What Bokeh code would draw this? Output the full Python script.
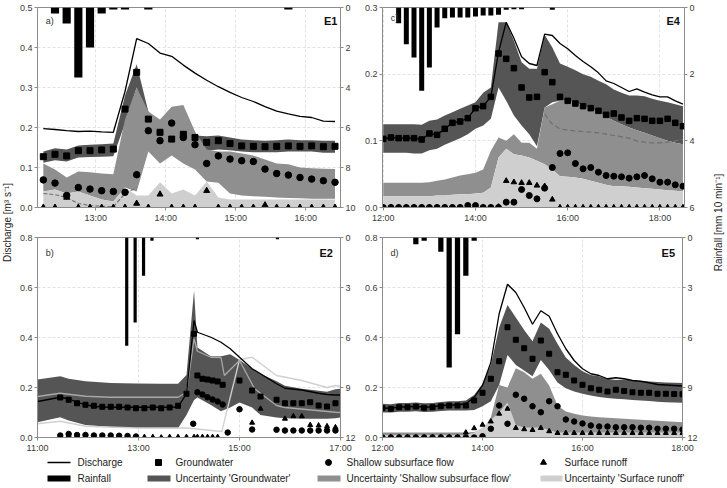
import math
from bokeh.plotting import figure
from bokeh.models import Range1d, LinearAxis, FixedTicker, PrintfTickFormatter
from bokeh.layouts import row, column
from bokeh.embed import file_html
from bokeh.resources import INLINE
from bokeh.core.properties import value

FONT = "Liberation Sans"
C_DARK = "#555555"
C_MED = "#8f8f8f"
C_LIGHT = "#cfcfcf"
AXC = "#8c8c8c"

# ================= DATA =================
# ---- Panel a (E1): minutes after 12:00 ----
a_time = list(range(15, 266, 10))
a_discharge = [0.197, 0.195, 0.192, 0.190, 0.191, 0.189, 0.188, 0.290, 0.422, 0.410, 0.386, 0.378, 0.356,
               0.336, 0.318, 0.302, 0.288, 0.275, 0.265, 0.252, 0.241, 0.234, 0.228, 0.225, 0.216, 0.215]
a_groundwater = [0.127, 0.133, 0.129, 0.142, 0.142, 0.144, 0.146, 0.246, 0.338, 0.221, 0.188, 0.171, 0.183,
                 0.175, 0.163, 0.167, 0.160, 0.154, 0.153, 0.152, 0.153, 0.154, 0.153, 0.154, 0.152, 0.153]
a_shallow = [0.069, 0.061, 0.030, 0.050, 0.046, 0.042, 0.040, 0.038, 0.082, 0.192, 0.167, 0.211, 0.175,
             0.157, 0.110, 0.129, 0.121, 0.117, 0.115, 0.096, 0.085, 0.081, 0.075, 0.071, 0.067, 0.063]
a_surface = [0, 0, 0.025, 0, 0, 0, 0, 0, 0.010, 0, 0.033, 0, 0,
             0, 0.042, 0, 0, 0, 0, 0.006, 0, 0, 0, 0, 0, 0]
a_gw_lo = [0.112, 0.118, 0.115, 0.125, 0.126, 0.127, 0.128, 0.210, 0.300, 0.200, 0.160, 0.155, 0.150,
           0.148, 0.142, 0.145, 0.143, 0.140, 0.138, 0.138, 0.138, 0.140, 0.140, 0.140, 0.137, 0.137]
a_gw_hi = [0.140, 0.148, 0.145, 0.155, 0.157, 0.158, 0.160, 0.280, 0.358, 0.240, 0.200, 0.190, 0.185,
           0.180, 0.178, 0.180, 0.175, 0.170, 0.168, 0.167, 0.168, 0.170, 0.168, 0.168, 0.167, 0.167]
a_sh_lo = [0.040, 0.045, 0.035, 0.040, 0.030, 0.020, 0.015, 0.050, 0.040, 0.140, 0.110, 0.130, 0.110,
           0.095, 0.065, 0.062, 0.035, 0.030, 0.028, 0.027, 0.025, 0.024, 0.023, 0.022, 0.022, 0.022]
a_sh_hi = [0.110, 0.095, 0.075, 0.090, 0.088, 0.085, 0.083, 0.220, 0.300, 0.240, 0.220, 0.252, 0.256,
           0.190, 0.145, 0.140, 0.140, 0.135, 0.130, 0.120, 0.110, 0.108, 0.100, 0.098, 0.097, 0.096]
a_sr_hi = [0.040, 0.045, 0.035, 0.040, 0.030, 0.020, 0.015, 0.050, 0.030, 0.030, 0.063, 0.035, 0.045,
           0.030, 0.065, 0.025, 0.020, 0.020, 0.020, 0.020, 0.020, 0.020, 0.020, 0.020, 0.020, 0.020]
a_dash_time = [15, 25, 35, 45, 55, 65, 75, 85, 95]
a_dashed = [0.035, 0.032, 0.025, 0.010, 0.005, 0.003, 0.002, 0.035, 0.050]
a_rain_time = [25, 35, 45, 55, 65, 75, 85, 105, 225]
a_rain = [0.3, 0.8, 3.5, 2.0, 0.3, 0.1, 0.1, 0.1, 0.1]

# ---- Panel b (E2): minutes after 11:00 ----
b_gw_time = [27, 37, 47, 57, 67, 77, 87, 97, 107, 117, 127, 137, 147, 157, 167, 177, 186,
             190, 196, 202, 208, 214, 220, 240, 255, 265, 284, 294, 304, 314, 324, 334, 344, 354]
b_groundwater = [0.160, 0.151, 0.137, 0.131, 0.127, 0.123, 0.123, 0.123, 0.120, 0.117, 0.117, 0.120, 0.117,
                 0.120, 0.127, 0.175, 0.415, 0.248, 0.235, 0.232, 0.228, 0.224, 0.211, 0.228, 0.188, 0.164,
                 0.151, 0.137, 0.137, 0.137, 0.141, 0.128, 0.124, 0.137]
b_sh_time = [27, 37, 47, 57, 67, 77, 87, 97, 107, 117, 185, 190, 196, 202, 208, 214, 220, 226,
             240, 255, 284, 294, 304, 314, 324, 334, 344, 354]
b_shallow = [0.008, 0.014, 0.010, 0.010, 0.008, 0.008, 0.008, 0.007, 0.006, 0.004, 0.055, 0.181, 0.172,
             0.161, 0.152, 0.144, 0.132, 0.020, 0.113, 0.032, 0.031, 0.028, 0.028, 0.028, 0.028, 0.028,
             0.028, 0.028]
b_sr_time = [27, 37, 47, 57, 67, 77, 87, 97, 107, 117, 127, 137, 147, 157, 167, 177, 186, 190, 196,
             202, 208, 214, 255, 265, 294, 304, 314, 324, 334, 344, 354]
b_surface = [0.004, 0.008, 0.003, 0.003, 0.002, 0.002, 0.002, 0, 0, 0.002, 0.002, 0.002, 0, 0.002,
             0.002, 0.002, 0.002, 0.002, 0.002, 0.002, 0.002, 0.002, 0.059, 0.115, 0.075, 0.085, 0.085,
             0.050, 0.048, 0.045, 0.041]
b_q_time = [0, 27, 37, 47, 57, 67, 77, 87, 97, 107, 117, 127, 137, 147, 157, 167, 177, 186, 190, 206,
            218, 229, 240, 255, 265, 284, 294, 314, 334, 344, 354, 360]
b_discharge = [0.144, 0.161, 0.155, 0.141, 0.131, 0.125, 0.122, 0.121, 0.121, 0.121, 0.121, 0.121, 0.121,
               0.121, 0.121, 0.122, 0.175, 0.468, 0.421, 0.401, 0.381, 0.355, 0.321, 0.275, 0.255, 0.215,
               0.197, 0.190, 0.177, 0.172, 0.170, 0.170]
b_band_time = [0, 27, 37, 57, 87, 117, 147, 167, 177, 186, 190, 206, 218, 229, 240, 255, 265, 284, 294,
               314, 334, 344, 354, 360]
b_gw_hi = [0.232, 0.245, 0.235, 0.225, 0.218, 0.216, 0.215, 0.215, 0.250, 0.588, 0.360, 0.325, 0.325,
           0.333, 0.310, 0.275, 0.255, 0.225, 0.207, 0.195, 0.187, 0.183, 0.193, 0.195]
b_gw_lo = [0.061, 0.081, 0.068, 0.050, 0.042, 0.038, 0.037, 0.037, 0.090, 0.150, 0.160, 0.130, 0.105,
           0.120, 0.140, 0.120, 0.090, 0.080, 0.077, 0.075, 0.075, 0.075, 0.077, 0.080]
b_la_time = [0, 27, 57, 87, 167, 177, 186, 190, 206, 218, 222, 240, 258, 284, 294, 354, 360]
b_line_a = [0.164, 0.177, 0.165, 0.161, 0.161, 0.180, 0.395, 0.345, 0.321, 0.320, 0.248, 0.308, 0.195,
            0.128, 0.120, 0.101, 0.100]
b_lb_time = [0, 27, 57, 117, 177, 219, 240, 255, 284, 314, 344, 354, 360]
b_line_b = [0.055, 0.065, 0.045, 0.038, 0.038, 0.024, 0.311, 0.321, 0.248, 0.228, 0.200, 0.208, 0.205]
b_rain_time = [106, 116, 126, 136, 190, 285]
b_rain = [6.5, 5.1, 2.3, 0.2, 0.1, 0.1]

# ---- Panel c (E4): minutes after 12:00 ----
c_time = list(range(0, 391, 10))
c_discharge = [0.103, 0.105, 0.104, 0.104, 0.104, 0.102, 0.111, 0.109, 0.118, 0.127,
               0.129, 0.134, 0.149, 0.152, 0.166, 0.233, 0.278, 0.254, 0.226, 0.216,
               0.213, 0.260, 0.258, 0.246, 0.238, 0.228, 0.219, 0.211, 0.202, 0.190,
               0.186, 0.180, 0.174, 0.178, 0.173, 0.169, 0.166, 0.166, 0.160, 0.155]
c_groundwater = [0.103, 0.105, 0.104, 0.104, 0.104, 0.102, 0.111, 0.109, 0.118, 0.127,
                 0.129, 0.134, 0.149, 0.152, 0.166, 0.231, 0.223, 0.209, 0.180, 0.165,
                 0.166, 0.203, 0.188, 0.166, 0.160, 0.156, 0.152, 0.149, 0.145, 0.139,
                 0.141, 0.135, 0.130, 0.134, 0.133, 0.130, 0.130, 0.133, 0.127, 0.122]
c_shallow = [0, 0, 0, 0, 0, 0, 0, 0, 0, 0,
             0, 0.003, 0.003, 0, 0, 0, 0.008, 0.008, 0.027, 0.018,
             0.013, 0.029, 0.060, 0.081, 0.082, 0.066, 0.058, 0.060, 0.053, 0.048,
             0.047, 0.046, 0.044, 0.046, 0.048, 0.043, 0.038, 0.038, 0.034, 0.032]
c_surface = [0, 0, 0, 0, 0, 0, 0, 0, 0, 0,
             0, 0, 0, 0, 0, 0.001, 0.040, 0.038, 0.037, 0.037,
             0.033, 0.032, 0.012, 0, 0, 0, 0, 0, 0, 0,
             0, 0, 0, 0, 0, 0, 0, 0, 0, 0]
c_gw_lo = [0.082, 0.082, 0.082, 0.082, 0.081, 0.081, 0.086, 0.088, 0.094, 0.099,
           0.104, 0.110, 0.118, 0.123, 0.133, 0.180, 0.160, 0.138, 0.123, 0.110,
           0.092, 0.150, 0.158, 0.160, 0.160, 0.157, 0.153, 0.148, 0.142, 0.136,
           0.130, 0.125, 0.120, 0.116, 0.112, 0.108, 0.104, 0.100, 0.097, 0.095]
c_gw_hi = [0.125, 0.125, 0.125, 0.125, 0.125, 0.124, 0.130, 0.132, 0.138, 0.143,
           0.148, 0.153, 0.158, 0.172, 0.180, 0.278, 0.278, 0.250, 0.218, 0.208,
           0.208, 0.259, 0.240, 0.216, 0.211, 0.206, 0.200, 0.196, 0.190, 0.185,
           0.177, 0.172, 0.168, 0.168, 0.167, 0.163, 0.160, 0.158, 0.155, 0.152]
c_sh_lo = [0.017, 0.017, 0.017, 0.017, 0.017, 0.017, 0.017, 0.018, 0.018, 0.019,
           0.020, 0.020, 0.021, 0.022, 0.030, 0.075, 0.088, 0.080, 0.078, 0.075,
           0.070, 0.065, 0.057, 0.047, 0.046, 0.045, 0.043, 0.040, 0.037, 0.034,
           0.032, 0.032, 0.031, 0.030, 0.029, 0.028, 0.027, 0.026, 0.025, 0.024]
c_sh_hi = [0.037, 0.037, 0.037, 0.037, 0.037, 0.037, 0.038, 0.040, 0.042, 0.045,
           0.048, 0.050, 0.052, 0.057, 0.085, 0.105, 0.100, 0.110, 0.097, 0.097,
           0.088, 0.150, 0.155, 0.160, 0.160, 0.157, 0.153, 0.148, 0.142, 0.136,
           0.130, 0.125, 0.120, 0.116, 0.112, 0.108, 0.104, 0.100, 0.097, 0.095]
c_sr_hi = [0.017, 0.017, 0.017, 0.017, 0.017, 0.017, 0.017, 0.018, 0.018, 0.019,
           0.020, 0.020, 0.021, 0.022, 0.030, 0.075, 0.088, 0.080, 0.078, 0.075,
           0.070, 0.065, 0.057, 0.047, 0.046, 0.045, 0.043, 0.040, 0.037, 0.034,
           0.032, 0.032, 0.031, 0.030, 0.029, 0.028, 0.027, 0.026, 0.025, 0.024]
c_dash_time = list(range(210, 391, 10))
c_dashed = [0.140, 0.125, 0.118, 0.116, 0.115, 0.114, 0.113, 0.112, 0.110, 0.108,
            0.106, 0.104, 0.100, 0.098, 0.097, 0.097, 0.098, 0.100, 0.102]
c_rain_time = [20, 30, 40, 50, 60, 70, 80, 90, 100, 110, 120, 130, 140, 150, 160, 170, 180, 220]
c_rain = [0.47, 1.1, 1.5, 2.5, 1.8, 0.6, 0.32, 0.3, 0.3, 0.3, 0.27, 0.24, 0.24, 0.22, 0.07, 0.05, 0.05, 0.07]

# ---- Panel d (E5): minutes after 12:00 ----
d_time = list(range(0, 361, 10))
d_discharge = [0.118, 0.117, 0.122, 0.122, 0.125, 0.121, 0.123, 0.127, 0.130, 0.130,
               0.135, 0.160, 0.208, 0.300, 0.495, 0.613, 0.580, 0.520, 0.453, 0.507,
               0.485, 0.415, 0.355, 0.308, 0.275, 0.255, 0.248, 0.235, 0.239, 0.235,
               0.228, 0.225, 0.219, 0.212, 0.210, 0.208, 0.206]
d_groundwater = [0.117, 0.115, 0.121, 0.121, 0.124, 0.119, 0.121, 0.125, 0.128, 0.128,
                 0.128, 0.148, 0.179, 0.235, 0.305, 0.441, 0.391, 0.357, 0.315, 0.388,
                 0.335, 0.261, 0.251, 0.228, 0.211, 0.197, 0.191, 0.184, 0.191, 0.186,
                 0.181, 0.179, 0.179, 0.175, 0.175, 0.174, 0.173]
d_shallow = [0, 0, 0, 0, 0, 0, 0, 0, 0, 0,
             0, 0, 0.005, 0.035, 0.128, 0.055, 0.171, 0.155, 0.125, 0.101,
             0.145, 0.125, 0.072, 0.064, 0.056, 0.048, 0.044, 0.044, 0.041, 0.041,
             0.041, 0.039, 0.039, 0.035, 0.035, 0.035, 0.032]
d_surface = [0, 0, 0, 0, 0, 0, 0, 0, 0, 0,
             0.020, 0.037, 0.051, 0.064, 0.095, 0.115, 0.038, 0.033, 0.030, 0.038,
             0.025, 0.018, 0.018, 0.018, 0.018, 0.018, 0.018, 0.018, 0.018, 0.018,
             0.018, 0.018, 0.018, 0.018, 0.018, 0.018, 0.018]
d_gw_lo = [0.100, 0.100, 0.103, 0.103, 0.105, 0.102, 0.103, 0.106, 0.108, 0.108,
           0.108, 0.110, 0.125, 0.145, 0.210, 0.330, 0.290, 0.268, 0.245, 0.310,
           0.270, 0.220, 0.197, 0.184, 0.175, 0.168, 0.162, 0.158, 0.155, 0.153,
           0.150, 0.148, 0.146, 0.143, 0.141, 0.140, 0.139]
d_gw_hi = [0.135, 0.133, 0.138, 0.138, 0.140, 0.137, 0.138, 0.142, 0.145, 0.145,
           0.148, 0.170, 0.215, 0.290, 0.440, 0.530, 0.480, 0.430, 0.385, 0.460,
           0.435, 0.375, 0.320, 0.290, 0.265, 0.250, 0.245, 0.235, 0.230, 0.232,
           0.228, 0.226, 0.224, 0.222, 0.220, 0.219, 0.218]
d_sh_hi = [0.020, 0.020, 0.020, 0.020, 0.020, 0.020, 0.020, 0.020, 0.020, 0.020,
           0.020, 0.022, 0.030, 0.080, 0.210, 0.200, 0.277, 0.261, 0.235, 0.255,
           0.208, 0.128, 0.104, 0.095, 0.088, 0.084, 0.081, 0.079, 0.077, 0.075,
           0.073, 0.071, 0.069, 0.067, 0.065, 0.063, 0.061]
d_sr_hi = [0.010, 0.010, 0.010, 0.010, 0.010, 0.010, 0.010, 0.010, 0.010, 0.010,
           0.010, 0.020, 0.040, 0.070, 0.100, 0.140, 0.050, 0.040, 0.040, 0.040,
           0.030, 0.020, 0.020, 0.020, 0.020, 0.020, 0.020, 0.020, 0.020, 0.020,
           0.020, 0.020, 0.020, 0.020, 0.020, 0.020, 0.020]
d_rain_time = [40, 50, 70, 80, 90, 100, 110]
d_rain = [0.4, 0.2, 0.85, 7.8, 5.8, 2.3, 0.2]

# ---- axes ----
yticks_a = [0.0, 0.1, 0.2, 0.3, 0.4, 0.5]
yticks_c = [0.0, 0.1, 0.2, 0.3]
yticks_bd = [0.0, 0.2, 0.4, 0.6, 0.8]
rticks_a = [0, 2, 4, 6, 8, 10]
rticks_c = [0, 2, 4, 6]
rticks_bd = [0, 3, 6, 9, 12]
xticks_a = [60, 120, 180, 240]
xlabels_a = ["13:00", "14:00", "15:00", "16:00"]
xticks_b = [0, 120, 240, 360]
xlabels_b = ["11:00", "13:00", "15:00", "17:00"]
xticks_cd = [0, 120, 240, 360]
xlabels_cd = ["12:00", "14:00", "16:00", "18:00"]

legend_labels_1 = ["Discharge", "Groundwater", "Shallow subsurface flow", "Surface runoff"]
legend_labels_2 = ["Rainfall", "Uncertainty 'Groundwater'", "Uncertainty 'Shallow subsurface flow'",
                   "Uncertainty 'Surface runoff'"]


# ================= PLOTTING =================
def style_axis(ax):
    ax.axis_line_color = AXC
    ax.major_tick_line_color = AXC
    ax.minor_tick_line_color = None
    ax.major_tick_out = 3
    ax.major_tick_in = 0
    ax.major_label_standoff = 2
    ax.major_label_text_font = FONT
    ax.major_label_text_font_size = "9px"
    ax.major_label_text_color = "#3a3a3a"


def make_panel(W, H, L, R, T, B, xr, ymax, yticks, rmax, rticks, xticks, xlabels):
    p = figure(width=W, height=H, x_range=Range1d(*xr), y_range=Range1d(0, ymax),
               min_border_left=L, min_border_right=R, min_border_top=T, min_border_bottom=B,
               toolbar_location=None, tools="", output_backend="svg")
    p.extra_y_ranges = {"rain": Range1d(rmax, 0)}
    p.outline_line_color = AXC
    p.background_fill_color = "white"
    p.border_fill_color = "white"
    p.xaxis[0].ticker = FixedTicker(ticks=xticks)
    p.xaxis[0].major_label_overrides = {t: l for t, l in zip(xticks, xlabels)}
    p.yaxis[0].ticker = FixedTicker(ticks=yticks)
    p.yaxis[0].formatter = PrintfTickFormatter(format="%.1f")
    rax = LinearAxis(y_range_name="rain", ticker=FixedTicker(ticks=rticks),
                     formatter=PrintfTickFormatter(format="%d"))
    p.add_layout(rax, "right")
    for ax in [p.xaxis[0], p.yaxis[0], rax]:
        style_axis(ax)
    p.xgrid.grid_line_color = "#e2e2e2"
    p.ygrid.grid_line_color = "#e2e2e2"
    p.xgrid.grid_line_dash = "3 2"
    p.ygrid.grid_line_dash = "3 2"
    return p


def add_labels(p, letter, event, lx, ly, ex, ey):
    xr, yr = p.x_range, p.y_range
    X = lambda f: xr.start + (xr.end - xr.start) * f
    Y = lambda f: yr.start + (yr.end - yr.start) * f
    p.text(x=[X(lx)], y=[Y(ly)], text=[letter], text_font=value(FONT), text_font_size="9px",
           text_align="left", text_baseline="middle", text_color="#333333")
    p.text(x=[X(ex)], y=[Y(ey)], text=[event], text_font=value(FONT), text_font_size="11px",
           text_font_style="bold", text_align="right", text_baseline="middle", text_color="#111111")


def add_markers(p, tg, gw, ts, sh, tr, sr, size):
    p.scatter(tg, gw, marker="square", size=size, fill_color="black", line_color="black")
    p.scatter(ts, sh, marker="circle", size=size + 0.5, fill_color="black", line_color="black")
    p.scatter(tr, sr, marker="triangle", size=size, fill_color="black", line_color="black")


# ---- panel a ----
pa = make_panel(346, 229, 23, 20, 7, 22, (10, 269.7), 0.5, yticks_a, 10, rticks_a, xticks_a, xlabels_a)
pa.varea(a_time, a_gw_lo, a_gw_hi, fill_color=C_DARK)
pa.varea(a_time, a_sh_lo, a_sh_hi, fill_color=C_MED)
pa.varea(a_time, [0] * len(a_time), a_sr_hi, fill_color=C_LIGHT)
pa.line(a_dash_time, a_dashed, line_color="#777777", line_width=1.2, line_dash="4 2")
pa.line(a_time, a_discharge, line_color="black", line_width=1.3)
pa.vbar(x=a_rain_time, width=7, top=0, bottom=a_rain, y_range_name="rain", fill_color="black", line_color=None)
add_markers(pa, a_time, a_groundwater, a_time, a_shallow, a_time, a_surface, 6)
add_labels(pa, "a)", "E1", 0.027, 0.935, 0.99, 0.935)

# ---- panel c ----
pc = make_panel(340, 229, 22, 16, 7, 22, (-1, 392), 0.3, yticks_c, 6, rticks_c, xticks_cd, xlabels_cd)
pc.varea(c_time, c_gw_lo, c_gw_hi, fill_color=C_DARK)
pc.varea(c_time, c_sh_lo, c_sh_hi, fill_color=C_MED)
pc.varea(c_time, [0] * len(c_time), c_sr_hi, fill_color=C_LIGHT)
pc.line(c_dash_time, c_dashed, line_color="#6f6f6f", line_width=1.2, line_dash="5 3")
pc.line(c_time, c_discharge, line_color="black", line_width=1.3)
pc.vbar(x=c_rain_time, width=6.5, top=0, bottom=c_rain, y_range_name="rain", fill_color="black", line_color=None)
add_markers(pc, c_time, c_groundwater, c_time, c_shallow, c_time, c_surface, 5.5)
add_labels(pc, "c)", "E4", 0.027, 0.95, 0.985, 0.935)

# ---- panel b ----
pb = make_panel(346, 226, 23, 20, 8, 18, (0, 360), 0.8, yticks_bd, 12, rticks_bd, xticks_b, xlabels_b)
pb.varea(b_band_time, b_gw_lo, b_gw_hi, fill_color=C_DARK)
pb.line(b_lb_time, b_line_b, line_color="#d0d0d0", line_width=1.3)
pb.line(b_la_time, b_line_a, line_color="#a8a8a8", line_width=1.3)
pb.line(b_q_time, b_discharge, line_color="black", line_width=1.3)
pb.vbar(x=b_rain_time, width=3.8, top=0, bottom=b_rain, y_range_name="rain", fill_color="black", line_color=None)
add_markers(pb, b_gw_time, b_groundwater, b_sh_time, b_shallow, b_sr_time, b_surface, 5)
add_labels(pb, "b)", "E2", 0.027, 0.925, 0.975, 0.925)

# ---- panel d ----
pd_ = make_panel(340, 226, 22, 16, 8, 18, (0, 360), 0.8, yticks_bd, 12, rticks_bd, xticks_cd, xlabels_cd)
pd_.varea(d_time, d_gw_lo, d_gw_hi, fill_color=C_DARK)
pd_.varea(d_time, [0] * len(d_time), d_sh_hi, fill_color=C_MED)
pd_.varea(d_time, [0] * len(d_time), d_sr_hi, fill_color=C_LIGHT)
pd_.line(d_time, d_discharge, line_color="black", line_width=1.3)
pd_.vbar(x=d_rain_time, width=6.3, top=0, bottom=d_rain, y_range_name="rain", fill_color="black", line_color=None)
add_markers(pd_, d_time, d_groundwater, d_time, d_shallow, d_time, d_surface, 5)
add_labels(pd_, "d)", "E5", 0.027, 0.925, 0.975, 0.925)


# ---- side labels ----
def label_fig(w, h, x, y, txt):
    f = figure(width=w, height=h, x_range=Range1d(0, w), y_range=Range1d(h, 0),
               min_border=0, toolbar_location=None, tools="", output_backend="svg",
               x_axis_location=None, y_axis_location=None)
    f.outline_line_color = None
    f.grid.visible = False
    f.text(x=[x], y=[y], text=[txt], angle=math.pi / 2, text_font=value(FONT), text_font_size="10px",
           text_align="center", text_baseline="middle", text_color="#222222")
    return f


left_lab = label_fig(14, 455, 7, 222, "Discharge [m³ s⁻¹]")
right_lab = label_fig(27, 455, 18, 222, "Rainfall [mm 10 min⁻¹]")

# ---- legend ----
leg = figure(width=727, height=33, x_range=Range1d(0, 727), y_range=Range1d(33, 0),
             min_border=0, toolbar_location=None, tools="", output_backend="svg",
             x_axis_location=None, y_axis_location=None)
leg.outline_line_color = None
leg.grid.visible = False
r1, r2 = 7, 23
leg.line([47, 70], [r1, r1], line_color="black", line_width=1.5)
leg.scatter([158], [r1], marker="square", size=6, fill_color="black", line_color="black")
leg.scatter([328], [r1], marker="circle", size=6, fill_color="black", line_color="black")
leg.scatter([543], [r1], marker="triangle", size=6, fill_color="black", line_color="black")
leg.quad(left=[47, 147, 317, 540], right=[70, 170, 340, 562], top=[r2 - 3] * 4, bottom=[r2 + 3] * 4,
         fill_color=["black", C_DARK, C_MED, C_LIGHT], line_color=None)
leg.text(x=[77, 175, 346, 564], y=[r1] * 4, text=legend_labels_1, text_font=value(FONT),
         text_font_size="10px", text_baseline="middle", text_align="left", text_color="#222222")
leg.text(x=[77, 175, 346, 564], y=[r2] * 4, text=legend_labels_2, text_font=value(FONT),
         text_font_size="10px", text_baseline="middle", text_align="left", text_color="#222222")

grid = column(row(pa, pc), row(pb, pd_))
page = column(row(left_lab, grid, right_lab), leg)

open("out.html", "w").write(file_html(page, INLINE))
